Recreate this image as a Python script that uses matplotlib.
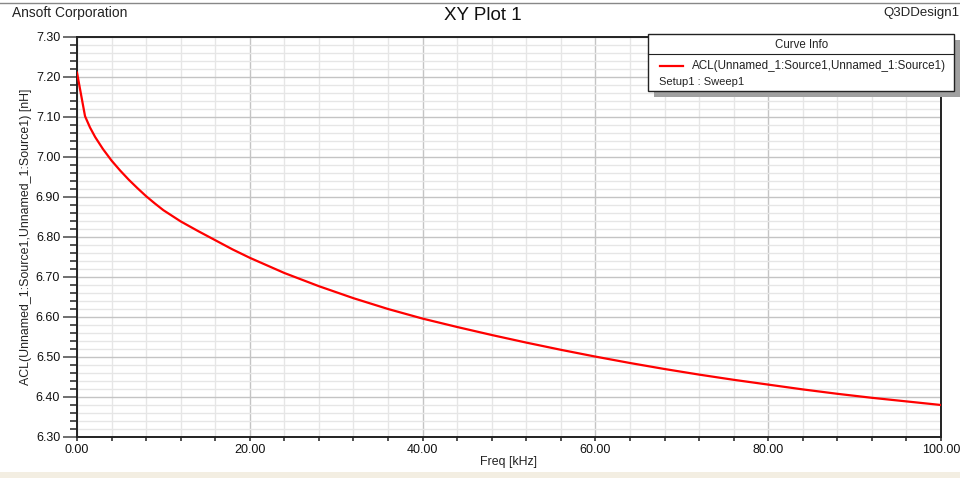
#!/usr/bin/env python3
"""Recreate the Ansoft Q3D 'XY Plot 1' chart (ACL vs frequency)."""

import matplotlib

matplotlib.use("Agg")
import matplotlib.pyplot as plt
from matplotlib.lines import Line2D
from matplotlib.patches import Rectangle
from matplotlib.ticker import FormatStrFormatter, MultipleLocator

# values
freq_khz = [0.0, 0.93, 1.5, 2.1, 3.0, 4.0, 5.0, 6.0, 7.0, 8.0, 9.0, 10.0,
            12.0, 14.0, 16.0, 18.0, 20.0, 24.0, 28.0, 32.0, 36.0, 40.0, 44.0,
            48.0, 52.0, 56.0, 60.0, 64.0, 68.0, 72.0, 76.0, 80.0, 84.0, 88.0,
            92.0, 96.0, 100.0]
acl_nh = [7.211, 7.102, 7.074, 7.050, 7.020, 6.991, 6.966, 6.943, 6.922,
          6.902, 6.884, 6.867, 6.839, 6.815, 6.792, 6.769, 6.748, 6.710,
          6.677, 6.647, 6.620, 6.596, 6.575, 6.555, 6.536, 6.518, 6.501,
          6.485, 6.470, 6.456, 6.443, 6.431, 6.419, 6.408, 6.398, 6.389,
          6.380]

curve_name = "ACL(Unnamed_1:Source1,Unnamed_1:Source1)"
setup_name = "Setup1 : Sweep1"

W, H = 960, 478
PT = 0.72  # points per pixel at dpi 100
plt.rcParams["font.family"] = ["Liberation Sans", "DejaVu Sans"]


def fx(x):
    return x / W


def fy(y):
    return 1 - y / H


fig = plt.figure(figsize=(W / 100, H / 100), dpi=100)
fig.patch.set_facecolor("white")

# axes area in pixels: x 77..941, y 37..437
ax = fig.add_axes([fx(77), fy(437), fx(941) - fx(77), fy(37) - fy(437)])
ax.plot(freq_khz, acl_nh, color="#FF0000", linewidth=1.6, zorder=3)

ax.set_xlim(0, 100)
ax.set_ylim(6.30, 7.30)
ax.xaxis.set_major_locator(MultipleLocator(20))
ax.xaxis.set_minor_locator(MultipleLocator(4))
ax.yaxis.set_major_locator(MultipleLocator(0.1))
ax.yaxis.set_minor_locator(MultipleLocator(0.02))
ax.xaxis.set_major_formatter(FormatStrFormatter("%.2f"))
ax.yaxis.set_major_formatter(FormatStrFormatter("%.2f"))

ax.grid(which="major", color="#C4C4C4", linewidth=1.0)
ax.grid(which="minor", color="#E6E6E6", linewidth=1.0)
ax.set_axisbelow(True)

for side in ax.spines.values():
    side.set_color("#222222")
    side.set_linewidth(1.4)

ax.tick_params(axis="y", which="major", length=14 * PT, width=1.2,
               color="#555555", labelsize=9, labelcolor="#111111", pad=2)
ax.tick_params(axis="y", which="minor", length=7 * PT, width=1.2,
               color="#333333")
ax.tick_params(axis="x", which="major", length=4 * PT, width=1.2,
               color="#333333", labelsize=9, labelcolor="#111111", pad=2)
ax.tick_params(axis="x", which="minor", length=4 * PT, width=1.2,
               color="#333333")

ax.set_xlabel("Freq [kHz]", fontsize=8.9, color="#222222", labelpad=0)
ax.set_ylabel(curve_name + " [nH]", fontsize=8.9, color="#222222",
              labelpad=3)

# header texts
fig.text(fx(12), fy(13), "Ansoft Corporation", fontsize=9.9,
         color="#222222", ha="left", va="center")
fig.text(fx(483), fy(15), "XY Plot 1", fontsize=13.5, color="#111111",
         ha="center", va="center")
fig.text(fx(959), fy(13), "Q3DDesign1", fontsize=9.5, color="#222222",
         ha="right", va="center")

# frame lines of the window
fig.add_artist(Line2D([0, 1], [fy(3), fy(3)], color="#888888", linewidth=1.0))
fig.add_artist(Rectangle((0, 0), 1, fy(472), facecolor="#F3EEE2",
                         edgecolor="none", zorder=0))

# curve info box with shadow
bx0, by0, bx1, by1 = 648, 34, 954, 91
fig.add_artist(Rectangle((fx(bx0 + 6), fy(by1 + 6)), fx(bx1) - fx(bx0),
                         fy(by0) - fy(by1), facecolor="#A0A0A0",
                         edgecolor="none", zorder=5))
fig.add_artist(Rectangle((fx(bx0), fy(by1)), fx(bx1) - fx(bx0),
                         fy(by0) - fy(by1), facecolor="white",
                         edgecolor="#222222", linewidth=1.0, zorder=6))
fig.add_artist(Line2D([fx(bx0), fx(bx1)], [fy(54), fy(54)], color="#222222",
                      linewidth=0.8, zorder=7))
fig.text(fx(802), fy(45), "Curve Info", fontsize=8.3, color="#222222",
         ha="center", va="center", zorder=8)
fig.add_artist(Line2D([fx(660), fx(683)], [fy(66), fy(66)], color="#FF0000",
                      linewidth=1.6, zorder=8))
fig.text(fx(692), fy(66), curve_name, fontsize=8.4, color="#222222",
         ha="left", va="center", zorder=8)
fig.text(fx(659), fy(82), setup_name, fontsize=8.0, color="#222222",
         ha="left", va="center", zorder=8)

fig.savefig("out.png", dpi=100)
